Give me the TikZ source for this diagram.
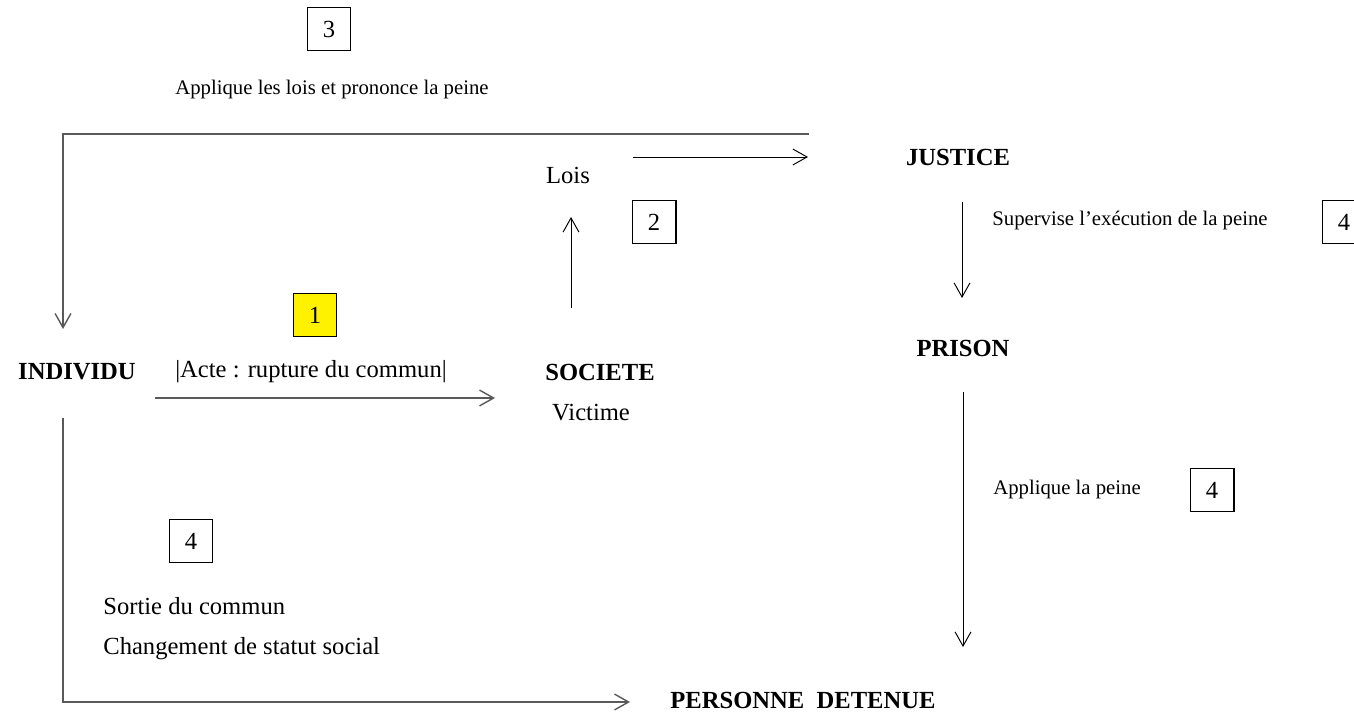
\documentclass[tikz,border=0pt]{standalone}
\usepackage{fontspec}
\setmainfont{Liberation Serif}
\usepackage{tikz}
\usetikzlibrary{arrows.meta}

\begin{document}
\begin{tikzpicture}[x=0.02cm, y=-0.02cm,
      inner sep=0pt,
      txt/.style={font=\fontsize{14}{16}\selectfont},
      small/.style={font=\fontsize{11.8}{14}\selectfont},
      head/.style={font=\fontsize{14}{16}\selectfont\bfseries},
      numbox/.style={draw, line width=0.6pt, minimum size=25pt, font=\fontsize{14}{16}\selectfont},
      arr/.style={-{Straight Barb[length=8pt,width=9pt]}, line width=0.55pt},
      grayarr/.style={arr, draw={rgb,255:red,89;green,89;blue,89}, line width=0.8pt}]
      \useasboundingbox (0,0) rectangle (1354,712);
      \node[numbox] (box3) at (329,29) {3};
      \node[small] (appliquelois) at (332,90) {Applique les lois et prononce la peine};
      \node[txt] (lois) at (568,175) {Lois};
      \node[head] (justice) at (958,157) {JUSTICE};
      \node[numbox] (box2) at (654,222) {2};
      \node[small, anchor=west] (supervise) at (992,221) {Supervise l’exécution de la peine};
      \node[numbox] (box4a) at (1344,222) {4};
      \node[numbox, fill=yellow] (box1) at (315,315) {1};
      \node[head] (prison) at (963,348) {PRISON};
      \node[head] (individu) at (77,372) {INDIVIDU};
      \node[txt] (acte) at (311,372) {\textbar Acte : rupture du commun\textbar};
      \node[head] (societe) at (600,372) {SOCIETE};
      \node[txt] (victime) at (591,413) {Victime};
      \node[small, anchor=west] (appliquepeine) at (993,490) {Applique la peine};
      \node[numbox] (box4b) at (1212,490) {4};
      \node[numbox] (box4c) at (191,541) {4};
      \node[txt, anchor=west] (sortie) at (103,606) {Sortie du commun};
      \node[txt, anchor=west] (statut) at (103,649) {Changement de statut social};
      \node[head] (personne) at (803,700) {PERSONNE\ \ DETENUE};
      \coordinate (justice-top) at (809,134);
      \coordinate (individu-in) at (63,329);
      \coordinate (lois-out) at (633,157);
      \coordinate (justice-in) at (808,157);
      \coordinate (societe-out) at (571,308);
      \coordinate (lois-in) at (571,217);
      \coordinate (justice-out) at (962,202);
      \coordinate (prison-in) at (962,298);
      \coordinate (prison-out) at (963,392);
      \coordinate (personne-top) at (963,647);
      \coordinate (individu-out) at (155,398);
      \coordinate (societe-in) at (495,398);
      \coordinate (individu-down) at (63,418);
      \coordinate (personne-in) at (630,702);
      \draw[grayarr] (justice-top) -| (individu-in);
      \draw[arr] (lois-out) -- (justice-in);
      \draw[arr] (societe-out) -- (lois-in);
      \draw[arr] (justice-out) -- (prison-in);
      \draw[arr] (prison-out) -- (personne-top);
      \draw[grayarr] (individu-out) -- (societe-in);
      \draw[grayarr] (individu-down) |- (personne-in);
    \end{tikzpicture}
\end{document}
